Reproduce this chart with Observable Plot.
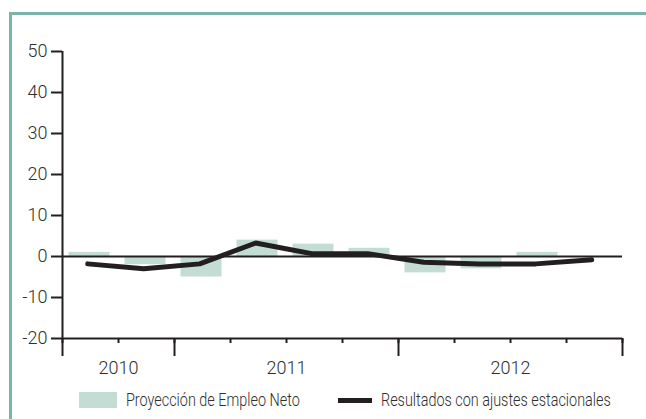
<!DOCTYPE html>
<html>
<head>
<meta charset="utf-8">
<script src="https://cdn.jsdelivr.net/npm/d3@7"></script>
<script src="https://cdn.jsdelivr.net/npm/@observablehq/plot@0.6"></script>
<style>
  html, body { margin: 0; padding: 0; background: #fff; }
  #wrap { position: relative; width: 646px; height: 419px; overflow: hidden; font-family: Roboto, sans-serif; }
  #frame { position: absolute; left: 9px; top: 12px; width: 700px; height: 500px;
           border-left: 3px solid #7db4aa; border-top: 3px solid #7db4aa; z-index: 2; pointer-events: none; }
  #chart { position: absolute; left: 0; top: 0; }
  .legend { position: absolute; top: 390px; left: 0; width: 646px; height: 22px; font-weight: 300; color: #2e2e2e; }
  .sw-bar { position: absolute; left: 79px; top: 2px; width: 38px; height: 16px; background: #c3ddd4; }
  .sw-line { position: absolute; left: 338px; top: 8px; width: 34px; height: 5px; background: #231f20; }
  .lt { position: absolute; top: -1px; font-size: 18px; line-height: 22px; white-space: nowrap; transform-origin: left center; transform: scaleX(0.8); }
</style>
</head>
<body>
<div id="wrap">
  <div id="chart"></div>
  <div id="frame"></div>
  <div class="legend">
    <div class="sw-bar"></div><span class="lt" style="left:126px">Proyección de Empleo Neto</span>
    <div class="sw-line"></div><span class="lt" style="left:381px">Resultados con ajustes estacionales</span>
  </div>
</div>
<script>
// Quarters shown on the x axis
const quarters = ["2010 T3","2010 T4","2011 T1","2011 T2","2011 T3","2011 T4","2012 T1","2012 T2","2012 T3","2012 T4"];
// Net Employment Outlook (bars)
const proyeccion = [1, -2, -5, 4, 3, 2, -4, -3, 1, null];
// Seasonally adjusted results (line)
const resultados = [-1.8, -3, -1.8, 3.3, 0.7, 0.7, -1.4, -1.8, -1.8, -0.8];
// Y tick values
const yTicks = [-20, -10, 0, 10, 20, 30, 40, 50];
// Year labels
const years = ["2010", "2011", "2012"];

const rows = quarters.map((q, i) => ({i, q, year: q.slice(0, 4), p: proyeccion[i], r: resultados[i]}));

const boundaries = d3.range(quarters.length + 1);
const majors = [0];
rows.forEach((d, i) => { if (i > 0 && d.year !== rows[i - 1].year) majors.push(i); });
majors.push(quarters.length);
const yearCenters = years.map(y => {
  const idx = rows.filter(d => d.year === y).map(d => d.i);
  return (d3.min(idx) + d3.max(idx) + 1) / 2;
});

const ink = "#231f20";
const chart = Plot.plot({
  width: 646,
  height: 390,
  marginLeft: 62,
  marginRight: 24,
  marginTop: 51,
  marginBottom: 52,
  style: {fontFamily: "Roboto", fontWeight: 300, fontSize: "18px", color: "#2e2e2e", background: "transparent", overflow: "visible"},
  x: {domain: [0, quarters.length]},
  y: {domain: [-20, 50]},
  marks: [
    Plot.rectY(rows.filter(d => d.p != null), {x1: d => d.i, x2: d => d.i + 1, y1: 0, y2: "p", fill: "#c3ddd4", insetLeft: 6.5, insetRight: 8.5}),
    Plot.ruleY([0], {stroke: ink, strokeWidth: 2}),
    Plot.line(rows, {x: d => d.i + 0.45, y: "r", stroke: ink, strokeWidth: 5, curve: "linear", strokeLinecap: "round", strokeLinejoin: "round"}),
    Plot.ruleX([0], {stroke: ink, strokeWidth: 2}),
    Plot.ruleY([-20], {stroke: ink, strokeWidth: 2}),
    Plot.axisY({ticks: yTicks, tickSize: 11, tickPadding: 4, tickFormat: d => String(d), stroke: ink, strokeWidth: 2, fill: "#2e2e2e"}),
    Plot.axisX({ticks: boundaries, tickSize: 5, tickFormat: () => "", stroke: ink, strokeWidth: 2}),
    Plot.axisX({ticks: majors, tickSize: 18, tickFormat: () => "", stroke: ink, strokeWidth: 2}),
    Plot.axisX({ticks: yearCenters, tickSize: 0, tickPadding: 23, tickFormat: v => years[yearCenters.indexOf(v)], fill: "#2e2e2e"})
  ]
});
document.getElementById("chart").appendChild(chart);
</script>
</body>
</html>
